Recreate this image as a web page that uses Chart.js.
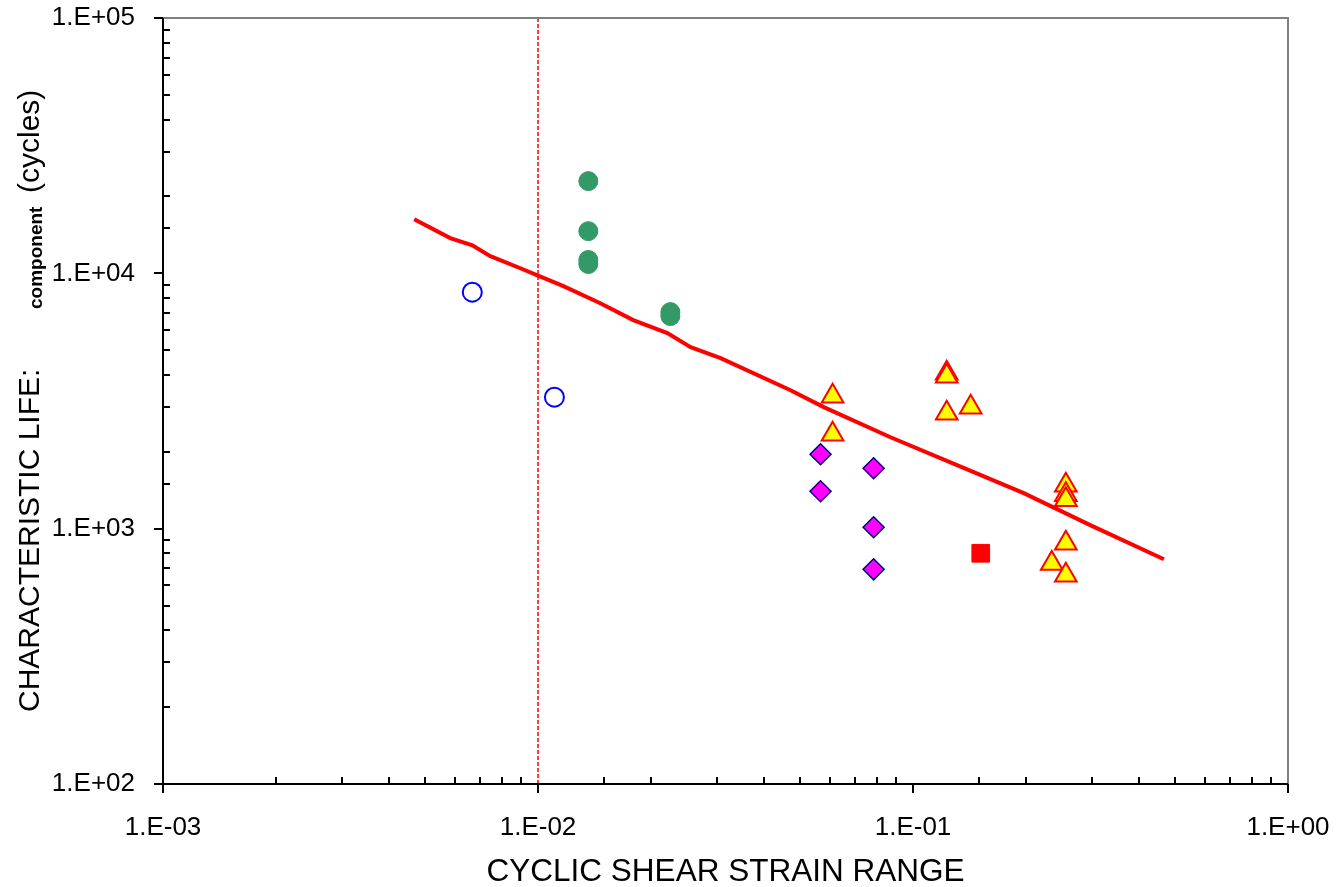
<!DOCTYPE html>
<html>
<head>
<meta charset="utf-8">
<script src="https://cdn.jsdelivr.net/npm/chart.js@4.4.1/dist/chart.umd.min.js"></script>
<style>
  html, body { margin: 0; padding: 0; background: #ffffff; }
  canvas { display: block; }
</style>
</head>
<body>
<canvas id="lifeChart" width="1337" height="887"></canvas>
<script>
// values (log-log)
let open_circle_x = [0.00668, 0.01106];
let open_circle_y = [8440, 3273];

let green_x = [0.01362, 0.01362, 0.01362, 0.01362, 0.02254, 0.02254];
let green_y = [22970, 14630, 11280, 10880, 7050, 6800];

let diamond_x = [0.05668, 0.05668, 0.07852, 0.07852, 0.07852];
let diamond_y = [1957, 1401, 1725, 1013, 693];

let square_x = [0.1516];
let square_y = [801];

let triangle_x = [0.06103, 0.06103, 0.1230, 0.1230, 0.1230, 0.1425, 0.2556, 0.2556, 0.2556, 0.2556, 0.2344, 0.2556];
let triangle_y = [3301, 2344, 4060, 3950, 2833, 2990, 1479, 1358, 1298, 876, 731, 657];

let fit_x = [0.004677, 0.005834, 0.006683, 0.007464, 0.008974, 0.01008, 0.01169, 0.01466, 0.01795, 0.02213,
             0.02553, 0.03069, 0.04715, 0.05781, 0.0871, 0.1315, 0.1974, 0.2979, 0.4667];
let fit_y = [16290, 13740, 12880, 11670, 10470, 9750, 8913, 7638, 6561, 5834,
             5140, 4656, 3483, 2992, 2280, 1770, 1377, 1030, 759];

let limit_x = [0.01, 0.01];
let limit_y = [100, 100000];

let x_range = [0.001, 1];
let y_range = [100, 100000];

let x_title = 'CYCLIC SHEAR STRAIN RANGE';
let y_title_main = 'CHARACTERISTIC LIFE:';
let y_title_sub = 'component';
let y_title_end = '(cycles)';

let FONT = '"Liberation Sans", Arial, sans-serif';

let pts = function(xs, ys) {
    return xs.map((x, i) => ({x: x, y: ys[i]}));
};

let is_decade = function(v) {
    let e = Math.round(Math.log10(v));
    return Math.abs(v - Math.pow(10, e)) < 1e-9 * Math.pow(10, e);
};

let sci_label = function(v) {
    if (!is_decade(v)) return '';
    let e = Math.round(Math.log10(v));
    return '1.E' + (e < 0 ? '-' : '+') + String(Math.abs(e)).padStart(2, '0');
};

// axes with outward major ticks, inward minor ticks, grey frame top/right
let frame_plugin = {
    id: 'frame',
    afterDatasetsDraw: function(chart) {
        let ctx = chart.ctx;
        let a = chart.chartArea;
        let xs = chart.scales.x;
        let ys = chart.scales.y;
        ctx.save();
        ctx.strokeStyle = '#808080';
        ctx.lineWidth = 2;
        ctx.beginPath();
        ctx.moveTo(a.left, a.top);
        ctx.lineTo(a.right, a.top);
        ctx.lineTo(a.right, a.bottom);
        ctx.stroke();

        ctx.strokeStyle = '#000000';
        ctx.lineWidth = 2;
        ctx.beginPath();
        ctx.moveTo(a.left, a.top);
        ctx.lineTo(a.left, a.bottom);
        ctx.lineTo(a.right, a.bottom);
        ctx.stroke();

        ctx.lineWidth = 2;
        ctx.beginPath();
        xs.ticks.forEach(t => {
            let px = Math.round(xs.getPixelForValue(t.value));
            if (is_decade(t.value)) {
                ctx.moveTo(px, a.bottom);
                ctx.lineTo(px, a.bottom + 9);
            } else {
                ctx.moveTo(px, a.bottom);
                ctx.lineTo(px, a.bottom - 7);
            }
        });
        ys.ticks.forEach(t => {
            let py = Math.round(ys.getPixelForValue(t.value));
            if (is_decade(t.value)) {
                ctx.moveTo(a.left, py);
                ctx.lineTo(a.left - 9, py);
            } else {
                ctx.moveTo(a.left, py);
                ctx.lineTo(a.left + 7, py);
            }
        });
        ctx.stroke();
        ctx.restore();
    },
    afterDraw: function(chart) {
        // rotated y title with the small bold subscript
        let ctx = chart.ctx;
        ctx.save();
        ctx.fillStyle = '#000000';
        ctx.textBaseline = 'alphabetic';
        ctx.textAlign = 'left';

        ctx.save();
        ctx.translate(39, 712);
        ctx.rotate(-Math.PI / 2);
        ctx.font = '30px ' + FONT;
        ctx.fillText(y_title_main, 0, 0);
        ctx.restore();

        ctx.save();
        ctx.translate(42, 309);
        ctx.rotate(-Math.PI / 2);
        ctx.font = 'bold 19px ' + FONT;
        ctx.fillText(y_title_sub, 0, 0);
        ctx.restore();

        ctx.save();
        ctx.translate(39, 193);
        ctx.rotate(-Math.PI / 2);
        ctx.font = '30px ' + FONT;
        ctx.fillText(y_title_end, 0, 0);
        ctx.restore();

        ctx.restore();
    }
};

let ctx = document.getElementById('lifeChart').getContext('2d');

let chart = new Chart(ctx, {
    type: 'scatter',
    data: {
        datasets: [{
            label: 'open circles',
            data: pts(open_circle_x, open_circle_y),
            pointStyle: 'circle',
            pointRadius: 9.5,
            pointBackgroundColor: 'rgba(255,255,255,0)',
            pointBorderColor: '#0000ff',
            pointBorderWidth: 2,
            order: 1,
        }, {
            label: 'green',
            data: pts(green_x, green_y),
            pointStyle: 'circle',
            pointRadius: 9.5,
            pointBackgroundColor: '#339966',
            pointBorderColor: '#339966',
            pointBorderWidth: 1,
            order: 1,
        }, {
            label: 'diamonds',
            data: pts(diamond_x, diamond_y),
            pointStyle: 'rectRot',
            pointRadius: 10.5,
            pointBackgroundColor: '#ff00ff',
            pointBorderColor: '#000080',
            pointBorderWidth: 1.5,
            order: 1,
        }, {
            label: 'square',
            data: pts(square_x, square_y),
            pointStyle: 'rect',
            pointRadius: 12.5,
            pointBackgroundColor: '#ff0000',
            pointBorderColor: '#ff0000',
            pointBorderWidth: 1,
            order: 1,
        }, {
            label: 'triangles',
            data: pts(triangle_x, triangle_y),
            pointStyle: 'triangle',
            pointRadius: 12.5,
            pointBackgroundColor: '#ffff00',
            pointBorderColor: '#ff0000',
            pointBorderWidth: 2,
            order: 1,
        }, {
            label: 'fit',
            data: pts(fit_x, fit_y),
            showLine: true,
            borderColor: '#ff0000',
            borderWidth: 4,
            pointRadius: 0,
            tension: 0,
            order: 5,
        }, {
            label: 'limit',
            data: pts(limit_x, limit_y),
            showLine: true,
            borderColor: '#ff0000',
            borderWidth: 1.5,
            borderDash: [4, 2],
            pointRadius: 0,
            order: 6,
        }],
    },
    options: {
        responsive: false,
        animation: false,
        layout: {
            padding: {left: 0, top: 18, right: 49, bottom: 0}
        },
        plugins: {
            legend: {display: false},
            tooltip: {enabled: false},
        },
        scales: {
            x: {
                type: 'logarithmic',
                min: x_range[0],
                max: x_range[1],
                grid: {display: false},
                border: {display: false},
                ticks: {
                    autoSkip: false,
                    maxRotation: 0,
                    padding: 20,
                    color: '#000000',
                    font: {family: FONT, size: 26},
                    callback: v => sci_label(v),
                },
                title: {
                    display: true,
                    text: x_title,
                    color: '#000000',
                    font: {family: FONT, size: 31.5, lineHeight: 1},
                    padding: {top: 0, bottom: -1},
                },
                afterFit: s => {
                    s.height = 103;
                    s.paddingLeft = 0;
                    s.paddingRight = 0;
                },
            },
            y: {
                type: 'logarithmic',
                min: y_range[0],
                max: y_range[1],
                grid: {display: false},
                border: {display: false},
                ticks: {
                    autoSkip: false,
                    padding: 20,
                    color: '#000000',
                    font: {family: FONT, size: 26},
                    callback: v => sci_label(v),
                },
                afterFit: s => {
                    s.width = 163;
                    s.paddingTop = 0;
                    s.paddingBottom = 0;
                },
            },
        },
    },
    plugins: [frame_plugin],
});
</script>
</body>
</html>
